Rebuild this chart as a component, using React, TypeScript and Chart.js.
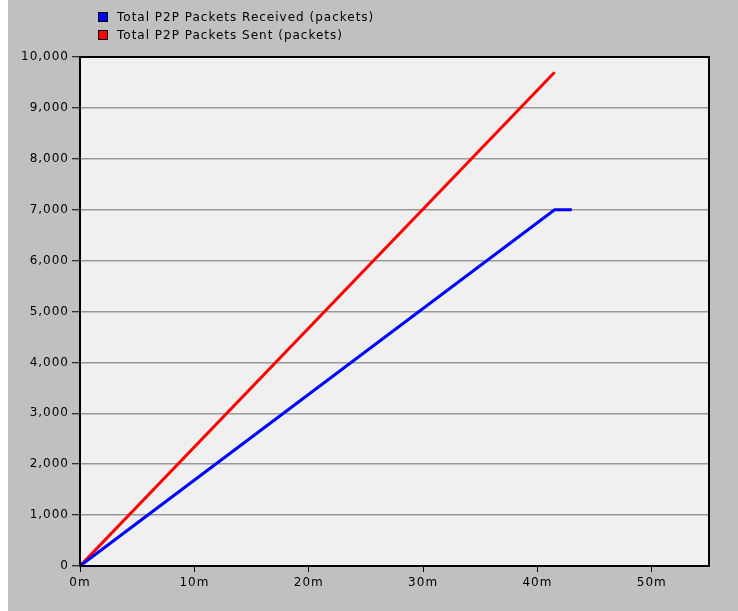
import React, { useEffect, useRef } from "react";
import { Chart, registerables } from "chart.js";

Chart.register(...registerables);

const timeMinutes = [0, 41.5, 43];
const receivedPackets = [0, 7000, 7000];
const sentTime = [0, 41.5];
const sentPackets = [0, 9700];
const seriesLabels = ["Total P2P Packets Received (packets)", "Total P2P Packets Sent (packets)"];
const seriesColors = ["#0000ff", "#ff0000"];
const xTicks = [0, 10, 20, 30, 40, 50];

const FONT = "DejaVu Sans";

const framePlugin = {
  id: "frame",
  beforeInit(chart: any) {
    try { chart.ctx.letterSpacing = "1px"; } catch (e) {}
  },
  beforeDraw(chart: any) {
    const { ctx, chartArea } = chart;
    try { ctx.letterSpacing = "1px"; } catch (e) {}
    ctx.save();
    ctx.fillStyle = "#f0f0f0";
    ctx.fillRect(chartArea.left, chartArea.top, chartArea.right - chartArea.left, chartArea.bottom - chartArea.top);
    ctx.restore();
  },
  afterDraw(chart: any) {
    const { ctx, chartArea } = chart;
    ctx.save();
    ctx.strokeStyle = "#000";
    ctx.lineWidth = 2;
    ctx.strokeRect(chartArea.left, chartArea.top, chartArea.right - chartArea.left, chartArea.bottom - chartArea.top);
    // legend
    ctx.font = `12px "${FONT}"`;
    ctx.textBaseline = "middle";
    ctx.textAlign = "left";
    chart.data.datasets.forEach((ds: any, i: number) => {
      const y = 17 + i * 18;
      ctx.fillStyle = ds.borderColor;
      ctx.fillRect(91, y - 4, 8, 8);
      ctx.strokeStyle = "#000";
      ctx.lineWidth = 1;
      ctx.strokeRect(90.5, y - 4.5, 9, 9);
      ctx.fillStyle = "#000";
      ctx.fillText(ds.label, 109, y + 1);
    });
    ctx.restore();
  },
};

export default function App() {
  const ref = useRef<HTMLCanvasElement>(null);
  useEffect(() => {
    if (!ref.current) return;
    const chart = new Chart(ref.current, {
      type: "line",
      data: {
        datasets: [
          {
            label: seriesLabels[0],
            data: timeMinutes.map((t, i) => ({ x: t, y: receivedPackets[i] })),
            borderColor: seriesColors[0],
            backgroundColor: seriesColors[0],
            borderWidth: 3,
            pointRadius: 0,
            tension: 0,
          },
          {
            label: seriesLabels[1],
            data: sentTime.map((t, i) => ({ x: t, y: sentPackets[i] })),
            borderColor: seriesColors[1],
            backgroundColor: seriesColors[1],
            borderWidth: 3,
            pointRadius: 0,
            tension: 0,
          },
        ],
      },
      options: {
        responsive: false,
        animation: false,
        devicePixelRatio: 1,
        layout: { padding: { top: 57, right: 29, left: 0, bottom: 0 } },
        plugins: { legend: { display: false }, tooltip: { enabled: false } },
        scales: {
          x: {
            type: "linear",
            min: 0,
            max: 55,
            afterBuildTicks: (scale: any) => {
              scale.ticks = xTicks.map((v) => ({ value: v }));
            },
            afterFit: (scale: any) => {
              scale.height = 45;
            },
            ticks: {
              includeBounds: false,
              callback: (v: any) => `${v}m`,
              color: "#000",
              font: { family: FONT, size: 12 },
              padding: 4,
              maxRotation: 0,
              autoSkip: false,
            },
            grid: { drawOnChartArea: false, tickLength: 6, tickColor: "#000", lineWidth: 1 },
            border: { color: "#000", width: 2 },
          },
          y: {
            type: "linear",
            min: 0,
            max: 10000,
            afterFit: (scale: any) => {
              scale.width = 72;
            },
            ticks: {
              stepSize: 1000,
              color: "#000",
              font: { family: FONT, size: 12 },
              padding: 3,
              callback: (v: any) => Number(v).toLocaleString("en-US"),
            },
            grid: { color: "#999999", lineWidth: 1.5, tickLength: 8, tickColor: "#000", tickWidth: 1 },
            border: { color: "#000", width: 2 },
          },
        },
      },
      plugins: [framePlugin],
    });
    return () => chart.destroy();
  }, []);
  return (
    <div style={{ position: "absolute", left: 8, top: 0, width: 730, height: 611, background: "#c0c0c0" }}>
      <canvas ref={ref} width={730} height={611} style={{ display: "block" }} />
    </div>
  );
}
